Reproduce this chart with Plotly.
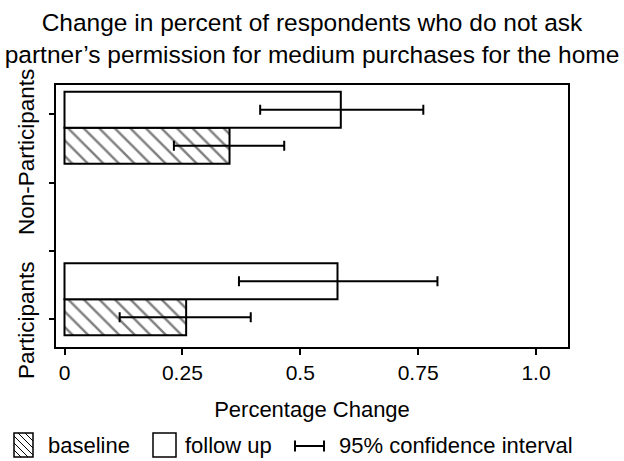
import plotly.graph_objects as go

# ---------------- data ----------------
groups = ["Participants", "Non-Participants"]
group_pos = [0, 1]
baseline = [0.258, 0.350]
baseline_lo = [0.117, 0.232]
baseline_hi = [0.395, 0.466]
followup = [0.579, 0.586]
followup_lo = [0.370, 0.415]
followup_hi = [0.791, 0.761]
x_tickvals = [0, 0.25, 0.5, 0.75, 1.0]
x_ticktext = ["0", "0.25", "0.5", "0.75", "1.0"]
y_tickvals = [1.078, 0.679, 0.283, -0.113]

FONT = "Liberation Sans, Arial, Helvetica, sans-serif"

fig = go.Figure()

fig.add_trace(go.Bar(
    name="baseline", orientation="h", y=group_pos, x=baseline,
    marker=dict(color="white", line=dict(color="black", width=2),
                pattern=dict(shape="\\", size=11, solidity=0.22,
                             fgcolor="black", bgcolor="white")),
    error_x=dict(type="data", symmetric=False,
                 array=[h - v for h, v in zip(baseline_hi, baseline)],
                 arrayminus=[v - l for v, l in zip(baseline, baseline_lo)],
                 color="black", thickness=2, width=5),
    showlegend=False,
))
fig.add_trace(go.Bar(
    name="follow up", orientation="h", y=group_pos, x=followup,
    marker=dict(color="white", line=dict(color="black", width=2)),
    error_x=dict(type="data", symmetric=False,
                 array=[h - v for h, v in zip(followup_hi, followup)],
                 arrayminus=[v - l for v, l in zip(followup, followup_lo)],
                 color="black", thickness=2, width=5),
    showlegend=False,
))

# plot area in pixels: left 56, right 568, top 85, bottom 347
L, R, T, B = 56, 568, 85, 347
W, H = 624, 461


def px(x):
    return (x - L) / (R - L)


def py(y):
    return (B - y) / (B - T)


shapes = []
annotations = []

# category labels (rotated)
for name, yv in zip(groups, [-0.121, 0.858]):
    annotations.append(dict(text=name, xref="paper", yref="y", x=px(26), y=yv,
                            textangle=-90, showarrow=False, xanchor="center",
                            yanchor="middle",
                            font=dict(family=FONT, size=22.5, color="black")))

# manual legend
sq_top, sq_bot = 433, 457
# hatched square
x0, x1 = 14, 33
shapes.append(dict(type="rect", xref="paper", yref="paper",
                   x0=px(x0), x1=px(x1), y0=py(sq_bot), y1=py(sq_top),
                   line=dict(color="black", width=1.5), fillcolor="white"))
sp = 7
for c in range(-int(sq_bot - sq_top), int(x1 - x0), sp):
    ya, yb = sq_top, sq_bot
    xa, xb = x0 + c, x0 + c + (sq_bot - sq_top)
    if xa < x0:
        ya += (x0 - xa); xa = x0
    if xb > x1:
        yb -= (xb - x1); xb = x1
    if yb - ya > 1:
        shapes.append(dict(type="line", xref="paper", yref="paper",
                           x0=px(xa), x1=px(xb), y0=py(ya), y1=py(yb),
                           line=dict(color="black", width=1)))
# empty square
shapes.append(dict(type="rect", xref="paper", yref="paper",
                   x0=px(153), x1=px(176), y0=py(sq_bot), y1=py(sq_top),
                   line=dict(color="black", width=1.5), fillcolor="white"))
# error-bar symbol
ey = 446
shapes.append(dict(type="line", xref="paper", yref="paper",
                   x0=px(294), x1=px(325), y0=py(ey), y1=py(ey),
                   line=dict(color="black", width=2)))
for xx in (295, 324):
    shapes.append(dict(type="line", xref="paper", yref="paper",
                       x0=px(xx), x1=px(xx), y0=py(ey - 5.5), y1=py(ey + 5.5),
                       line=dict(color="black", width=2)))

for txt, xl in [("baseline", 46), ("follow up", 183), ("95% confidence interval", 337)]:
    annotations.append(dict(text=txt, xref="paper", yref="paper", x=px(xl), y=py(445),
                            xanchor="left", yanchor="middle", showarrow=False,
                            font=dict(family=FONT, size=22, color="black")))

fig.update_layout(
    width=W, height=H,
    margin=dict(l=L, r=W - R, t=T, b=H - B, pad=0),
    paper_bgcolor="white", plot_bgcolor="white",
    barmode="group", bargap=0.58, bargroupgap=0,
    font=dict(family=FONT, size=21, color="black"),
    title=dict(text="Change in percent of respondents who do not ask<br>partner’s permission for medium purchases for the home",
               x=0.5, xanchor="center", xref="paper",
               y=1 - 31 / H, yanchor="top", yref="container",
               font=dict(family=FONT, size=24.5, color="black")),
    xaxis=dict(range=[(L - 64.5) / 471.5, (R - 64.5) / 471.5],
               tickvals=x_tickvals, ticktext=x_ticktext,
               showline=True, linecolor="black", linewidth=2, mirror=True,
               ticks="outside", ticklen=6, tickwidth=1.5, tickcolor="black",
               showgrid=False, zeroline=False,
               tickfont=dict(family=FONT, size=21, color="black"),
               title=dict(text="Percentage Change", standoff=18,
                          font=dict(family=FONT, size=22, color="black"))),
    yaxis=dict(range=[-0.278, 1.2488], tickvals=y_tickvals,
               showticklabels=False,
               showline=True, linecolor="black", linewidth=2, mirror=True,
               ticks="outside", ticklen=5, tickwidth=1.5, tickcolor="black",
               showgrid=False, zeroline=False),
    shapes=shapes, annotations=annotations,
)

fig.write_html("out.html", config={"displayModeBar": False},
               post_script="document.body.style.margin='0';document.body.style.overflow='hidden';")
